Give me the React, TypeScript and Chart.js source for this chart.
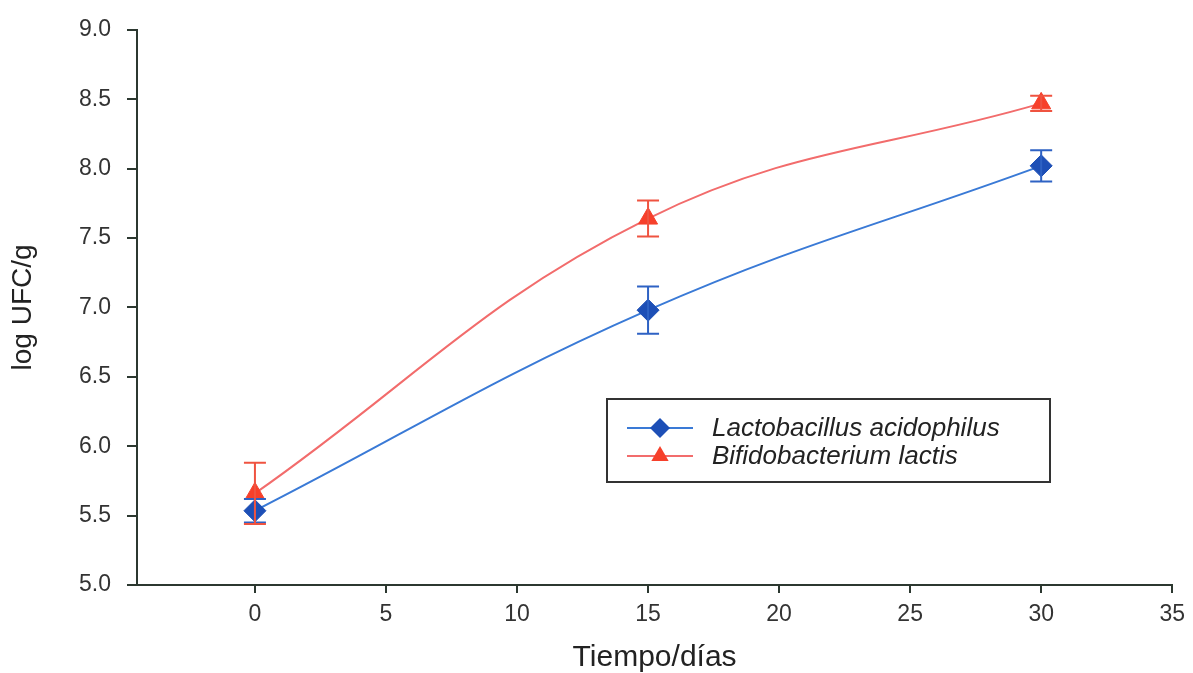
import React, { useEffect, useRef } from 'react';
import { Chart, registerables } from 'chart.js';

Chart.register(...registerables);

const days = [0, 15, 30];
const lactobacillus = [5.535, 6.98, 8.02];
const lactobacillusErr = [0.085, 0.17, 0.113];
const bifido = [5.66, 7.64, 8.47];
const bifidoErr = [0.22, 0.13, 0.055];
const xTicks = [0, 5, 10, 15, 20, 25, 30, 35];
const seriesNames = ['Lactobacillus acidophilus', 'Bifidobacterium lactis'];
const xTitle = 'Tiempo/días';
const yTitle = 'log UFC/g';

const BLUE_LINE = '#3a7ad6';
const BLUE_MARK = '#1d4fb6';
const BLUE_ERR = '#2e62c4';
const RED_LINE = '#f26c6c';
const RED_MARK = '#f6402b';
const RED_ERR = '#ef5340';
const AXIS = '#2c3830';
const FONT = 'Arial, "Liberation Sans", sans-serif';

const errorBarPlugin = {
  id: 'errorBars',
  afterDatasetsDraw(chart: any) {
    const ctx = chart.ctx;
    const yScale = chart.scales.y;
    chart.data.datasets.forEach((ds: any, i: number) => {
      const meta = chart.getDatasetMeta(i);
      const errs: number[] = ds.errors || [];
      ctx.save();
      ctx.strokeStyle = ds.errorColor;
      ctx.lineWidth = 2;
      meta.data.forEach((pt: any, j: number) => {
        const v = ds.data[j].y;
        const e = errs[j];
        if (e == null) return;
        const x = pt.x;
        const yTop = yScale.getPixelForValue(v + e);
        const yBot = yScale.getPixelForValue(v - e);
        ctx.beginPath();
        ctx.moveTo(x, yTop);
        ctx.lineTo(x, yBot);
        ctx.moveTo(x - 11, yTop);
        ctx.lineTo(x + 11, yTop);
        ctx.moveTo(x - 11, yBot);
        ctx.lineTo(x + 11, yBot);
        ctx.stroke();
      });
      ctx.restore();
    });
  },
};

function drawMarker(ctx: CanvasRenderingContext2D, style: string, x: number, y: number, r: number, color: string) {
  ctx.fillStyle = color;
  ctx.beginPath();
  if (style === 'rectRot') {
    ctx.moveTo(x, y - r);
    ctx.lineTo(x + r, y);
    ctx.lineTo(x, y + r);
    ctx.lineTo(x - r, y);
  } else {
    ctx.moveTo(x, y - r);
    ctx.lineTo(x + r * 0.866, y + r * 0.5);
    ctx.lineTo(x - r * 0.866, y + r * 0.5);
  }
  ctx.closePath();
  ctx.fill();
}

const legendPlugin = {
  id: 'boxLegend',
  afterDraw(chart: any) {
    const ctx = chart.ctx;
    const left = 607, top = 399, right = 1050, bottom = 482;
    ctx.save();
    ctx.strokeStyle = '#333';
    ctx.lineWidth = 2;
    ctx.strokeRect(left, top, right - left, bottom - top);
    const rows = [428, 456];
    chart.data.datasets.forEach((ds: any, i: number) => {
      const y = rows[i];
      ctx.strokeStyle = ds.borderColor;
      ctx.lineWidth = 2;
      ctx.beginPath();
      ctx.moveTo(627, y);
      ctx.lineTo(693, y);
      ctx.stroke();
      drawMarker(ctx, ds.pointStyle, 660, y, 10, ds.pointBackgroundColor);
      ctx.fillStyle = '#222';
      ctx.font = 'italic 26px ' + FONT;
      ctx.textBaseline = 'middle';
      ctx.textAlign = 'left';
      ctx.fillText(ds.label, 712, y + 1);
    });
    ctx.restore();
  },
};

export default function App() {
  const ref = useRef<HTMLCanvasElement>(null);

  useEffect(() => {
    if (!ref.current) return;
    const chart = new Chart(ref.current, {
      type: 'line',
      data: {
        datasets: [
          {
            label: seriesNames[0],
            data: days.map((d, i) => ({ x: d, y: lactobacillus[i] })),
            errors: lactobacillusErr,
            errorColor: BLUE_ERR,
            borderColor: BLUE_LINE,
            borderWidth: 2,
            pointStyle: 'rectRot',
            pointRadius: 11,
            pointBackgroundColor: BLUE_MARK,
            pointBorderColor: BLUE_MARK,
            pointBorderWidth: 1,
            tension: 0.4,
            fill: false,
          } as any,
          {
            label: seriesNames[1],
            data: days.map((d, i) => ({ x: d, y: bifido[i] })),
            errors: bifidoErr,
            errorColor: RED_ERR,
            borderColor: RED_LINE,
            borderWidth: 2,
            pointStyle: 'triangle',
            pointRadius: 11,
            pointBackgroundColor: RED_MARK,
            pointBorderColor: RED_MARK,
            pointBorderWidth: 1,
            tension: 0.4,
            fill: false,
          } as any,
        ],
      },
      options: {
        responsive: false,
        animation: false,
        layout: { padding: { left: 0, top: 24, right: 18, bottom: 0 } },
        plugins: {
          legend: { display: false },
          tooltip: { enabled: false },
        },
        scales: {
          x: {
            type: 'linear',
            min: -4.5,
            max: 35,
            afterBuildTicks: (scale: any) => {
              scale.ticks = xTicks.map((v) => ({ value: v }));
            },
            afterFit: (scale: any) => {
              scale.height = 88;
            },
            border: { display: true, color: AXIS, width: 2 },
            grid: { drawOnChartArea: false, drawTicks: true, tickLength: 8, color: AXIS, lineWidth: 2 },
            ticks: {
              padding: 8,
              color: '#333',
              font: { family: FONT, size: 23 },
              maxRotation: 0,
              autoSkip: false,
              callback: (v: any) => String(v),
            },
            title: {
              display: true,
              text: xTitle,
              color: '#222',
              font: { family: FONT, size: 30, lineHeight: 1.2 },
              padding: { top: 0, bottom: -3 },
            },
          },
          y: {
            type: 'linear',
            min: 5,
            max: 9,
            afterFit: (scale: any) => {
              scale.width = 137;
            },
            border: { display: true, color: AXIS, width: 2 },
            grid: { drawOnChartArea: false, drawTicks: true, tickLength: 10, color: AXIS, lineWidth: 2 },
            ticks: {
              stepSize: 0.5,
              padding: 16,
              color: '#333',
              font: { family: FONT, size: 23 },
              callback: (v: any) => Number(v).toFixed(1),
            },
            title: {
              display: true,
              text: yTitle,
              color: '#222',
              font: { family: FONT, size: 28, lineHeight: 1.2 },
              padding: { top: 6, bottom: 0 },
            },
          },
        },
      } as any,
      plugins: [errorBarPlugin, legendPlugin],
    });
    return () => chart.destroy();
  }, []);

  return (
    <div style={{ position: 'fixed', left: 0, top: 0, width: 1193, height: 673, background: '#fff' }}>
      <canvas ref={ref} width={1193} height={673} />
    </div>
  );
}
